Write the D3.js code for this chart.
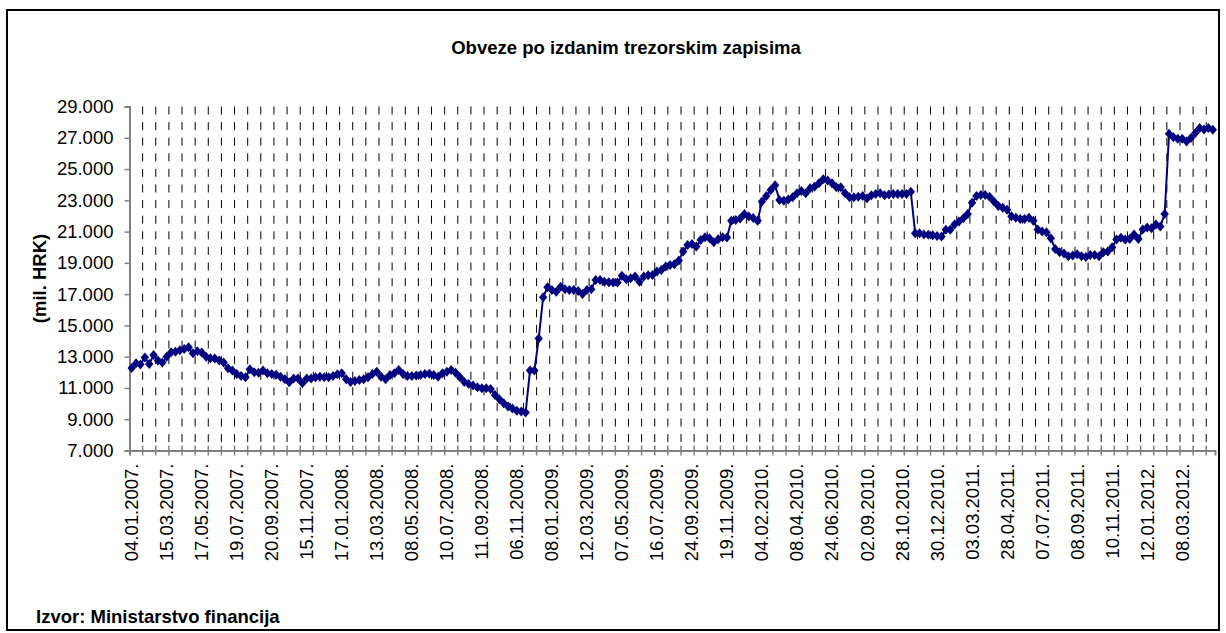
<!DOCTYPE html>
<html>
<head>
<meta charset="utf-8">
<script src="https://cdn.jsdelivr.net/npm/d3@7"></script>
<style>
  body { margin: 0; background: #fff; }
  svg { display: block; font-family: "Liberation Sans", Arial, sans-serif; }
</style>
</head>
<body>
<svg id="chart" width="1226" height="633"></svg>
<script>
// weekly auction points, label on every 8th point, gridline every 3rd
var tickLabels = ["04.01.2007.", "15.03.2007.", "17.05.2007.", "19.07.2007.", "20.09.2007.", "15.11.2007.",
  "17.01.2008.", "13.03.2008.", "08.05.2008.", "10.07.2008.", "11.09.2008.", "06.11.2008.",
  "08.01.2009.", "12.03.2009.", "07.05.2009.", "16.07.2009.", "24.09.2009.", "19.11.2009.",
  "04.02.2010.", "08.04.2010.", "24.06.2010.", "02.09.2010.", "28.10.2010.", "30.12.2010.",
  "03.03.2011.", "28.04.2011.", "07.07.2011.", "08.09.2011.", "10.11.2011.", "12.01.2012.", "08.03.2012."];
var labelEvery = 8;
var gridEvery = 3;

// mil. HRK
var values = [
  12280, 12580, 12500, 12940, 12530, 13110, 12750, 12620, 13000, 13280,
  13320, 13410, 13490, 13600, 13220, 13340, 13260, 13000, 12900, 12880,
  12750, 12620, 12260, 12110, 11890, 11770, 11680, 12190, 12000, 11980,
  12110, 11940, 11890, 11850, 11720, 11550, 11360, 11600, 11600, 11300,
  11600, 11600, 11680, 11720, 11680, 11680, 11770, 11870, 11940, 11550,
  11380, 11450, 11510, 11550, 11680, 11890, 12040, 11720, 11550, 11830,
  11940, 12150, 11890, 11770, 11770, 11790, 11830, 11890, 11910, 11830,
  11720, 11940, 12040, 12150, 11980, 11680, 11380, 11260, 11150, 11040,
  10980, 10980, 10940, 10550, 10280, 10020, 9810, 9680, 9550, 9490,
  9430, 12110, 12110, 14170, 16800, 17440, 17270, 17160, 17480, 17310,
  17270, 17270, 17200, 17010, 17270, 17310, 17910, 17910, 17800, 17760,
  17740, 17740, 18170, 17950, 18020, 18120, 17800, 18120, 18210, 18230,
  18440, 18550, 18760, 18870, 18910, 19150, 19720, 20150, 20210, 20040,
  20470, 20640, 20570, 20320, 20510, 20640, 20620, 21700, 21740, 21830,
  22130, 21960, 21870, 21700, 22920, 23280, 23660, 23960, 23020, 22980,
  23060, 23190, 23450, 23600, 23450, 23770, 23870, 24090, 24340, 24260,
  24090, 23830, 23830, 23450, 23190, 23190, 23230, 23280, 23130, 23320,
  23400, 23450, 23320, 23380, 23400, 23400, 23400, 23400, 23550, 20890,
  20890, 20810, 20790, 20760, 20720, 20680, 21110, 21110, 21450, 21640,
  21850, 22130, 22850, 23280, 23340, 23340, 23230, 22920, 22630, 22520,
  22400, 21980, 21890, 21810, 21810, 21890, 21700, 21130, 21000, 20960,
  20570, 19890, 19680, 19600, 19430, 19470, 19550, 19430, 19380, 19510,
  19510, 19430, 19680, 19720, 20000, 20490, 20600, 20490, 20530, 20810,
  20530, 21130, 21260, 21210, 21450, 21320, 22130, 27250, 27040, 26930,
  26930, 26760, 26980, 27300, 27620, 27530, 27620, 27510
];
var yMin = 7000, yMax = 29000, yStep = 2000;

(function() {
  var svg = d3.select("#chart");
  var plotLeft = 129.5, plotRight = 1215, plotTop = 106.5, plotBottom = 450.5;
  var navy = "#000080";

  svg.append("rect")
    .attr("x", 7).attr("y", 10).attr("width", 1212).attr("height", 620)
    .attr("fill", "#fff").attr("stroke", "#000").attr("stroke-width", 2);

  var idx = values.map(function(d, i) { return i; });
  var x = d3.scaleBand().domain(idx).range([plotLeft, plotRight]).padding(0);
  var y = d3.scaleLinear().domain([yMin, yMax]).range([plotBottom, plotTop]);
  var cx = function(i) { return x(i) + x.bandwidth() / 2; };

  var fmt = d3.formatLocale({ decimal: ",", thousands: ".", grouping: [3], currency: ["", ""] }).format(",");

  // dashed vertical gridlines
  var gridIdx = idx.filter(function(i) { return i > 0 && i % gridEvery === 0; });
  svg.append("g").selectAll("line")
    .data(gridIdx)
    .enter().append("line")
    .attr("x1", function(i) { return x(i); })
    .attr("x2", function(i) { return x(i); })
    .attr("y1", plotTop).attr("y2", plotBottom)
    .attr("stroke", "#000").attr("stroke-width", 1)
    .attr("stroke-dasharray", "8,7.6");

  // y axis
  var yAxis = svg.append("g")
    .attr("transform", "translate(" + plotLeft + ",0)")
    .call(d3.axisLeft(y).tickValues(d3.range(yMin, yMax + 1, yStep)).tickSize(5).tickPadding(11).tickFormat(fmt));
  yAxis.select(".domain").attr("stroke", "#808080").attr("stroke-width", 2);
  yAxis.selectAll(".tick line").attr("stroke", "#808080").attr("stroke-width", 1.5);
  yAxis.selectAll(".tick text").attr("font-size", "18.5px").attr("fill", "#000")
    .style("font-family", "'Liberation Sans', Arial, sans-serif");

  // x axis: crossing tick marks every 3 points
  var xAxis = svg.append("g")
    .attr("transform", "translate(0," + plotBottom + ")")
    .call(d3.axisBottom(x).tickValues(gridIdx).tickSize(5).tickFormat(""));
  xAxis.selectAll(".tick").attr("transform", function(i) { return "translate(" + x(i) + ",0)"; });
  xAxis.selectAll(".tick line").attr("y1", -5).attr("y2", 5).attr("stroke", "#808080").attr("stroke-width", 1.5);
  xAxis.select(".domain").attr("stroke", "#808080").attr("stroke-width", 2);

  // rotated date labels
  var labelIdx = idx.filter(function(i) { return i % labelEvery === 0; });
  svg.append("g").selectAll("text")
    .data(labelIdx)
    .enter().append("text")
    .attr("transform", function(i) { return "translate(" + cx(i) + "," + (plotBottom + 13) + ") rotate(-90)"; })
    .attr("text-anchor", "end")
    .attr("dy", "0.35em")
    .attr("font-size", "18.5px")
    .text(function(i) { return tickLabels[i / labelEvery]; });

  // series
  var line = d3.line()
    .x(function(d, i) { return cx(i); })
    .y(function(d) { return y(d); });
  svg.append("path")
    .datum(values)
    .attr("fill", "none")
    .attr("stroke", navy)
    .attr("stroke-width", 2)
    .attr("d", line);

  svg.append("g").selectAll("path")
    .data(values)
    .enter().append("path")
    .attr("d", "M0,-5L4.2,0L0,5L-4.2,0Z")
    .attr("transform", function(d, i) { return "translate(" + cx(i) + "," + y(d) + ")"; })
    .attr("fill", navy);

  // titles
  svg.append("text")
    .attr("x", 626).attr("y", 53.5)
    .attr("text-anchor", "middle")
    .attr("font-size", "18.5px").attr("font-weight", "bold")
    .text("Obveze po izdanim trezorskim zapisima");

  svg.append("text")
    .attr("transform", "translate(46," + ((plotTop + plotBottom) / 2) + ") rotate(-90)")
    .attr("text-anchor", "middle")
    .attr("font-size", "18.5px").attr("font-weight", "bold")
    .text("(mil. HRK)");

  svg.append("text")
    .attr("x", 36).attr("y", 623)
    .attr("font-size", "18.5px").attr("font-weight", "bold")
    .text("Izvor: Ministarstvo financija");
})();
</script>
</body>
</html>
